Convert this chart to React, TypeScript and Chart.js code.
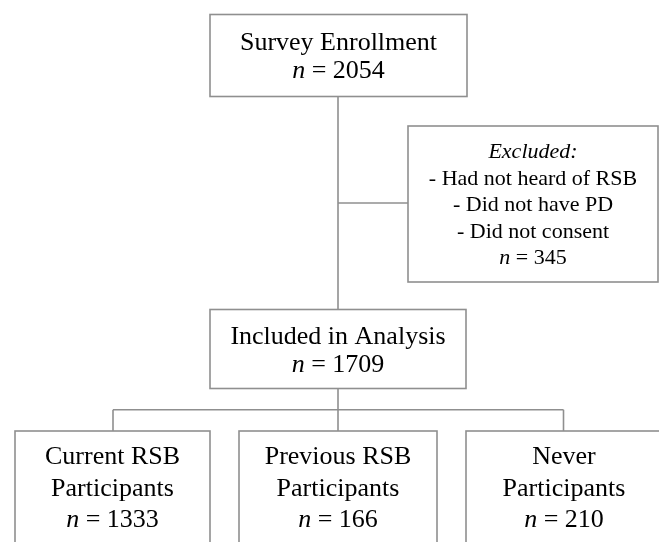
import React, { useEffect, useRef } from "react";
import { Chart, registerables } from "chart.js";

Chart.register(...registerables);

// ---- Data (content of the flowchart) ----
const nodeIds = ["enroll", "excluded", "included", "current", "previous", "never"];
const nodeLines: string[][] = [
  ["Survey Enrollment"],
  ["Excluded:", "- Had not heard of RSB", "- Did not have PD", "- Did not consent"],
  ["Included in Analysis"],
  ["Current RSB", "Participants"],
  ["Previous RSB", "Participants"],
  ["Never", "Participants"],
];
const nodeCounts = [2054, 345, 1709, 1333, 166, 210];
const italicFirstLine = [false, true, false, false, false, false];

// ---- Layout (in scale units; x: 0..659, y: 0..542 top-down) ----
const nodeCx = [338.5, 533, 338, 112.5, 338, 566];
const nodeCy = [55.5, 204, 349, 487, 487, 487];
const nodeW = [257, 250, 256, 195, 198, 200];
const nodeH = [82, 156, 79, 112, 112, 112];
const nodeFont = [26, 22, 26, 26, 26, 26];
const nodeLineGap = [28, 26.5, 28, 31.5, 31.5, 31.5];

const FONT = '"Liberation Serif", "Times New Roman", serif';
const LINE_COLOR = "#8f8f8f";
const TEXT_COLOR = "#000000";

const flowPlugin = {
  id: "flowchart",
  afterDraw(chart: any) {
    const ctx = chart.ctx as CanvasRenderingContext2D;
    const xs = chart.scales.x;
    const ys = chart.scales.y;
    const px = (v: number) => xs.getPixelForValue(v);
    const py = (v: number) => ys.getPixelForValue(v);

    ctx.save();
    ctx.strokeStyle = LINE_COLOR;
    ctx.lineWidth = 1.6;

    const line = (x1: number, y1: number, x2: number, y2: number) => {
      ctx.beginPath();
      ctx.moveTo(px(x1), py(y1));
      ctx.lineTo(px(x2), py(y2));
      ctx.stroke();
    };
    const top = (i: number) => nodeCy[i] - nodeH[i] / 2;
    const bottom = (i: number) => nodeCy[i] + nodeH[i] / 2;
    const left = (i: number) => nodeCx[i] - nodeW[i] / 2;

    // connectors
    const trunkX = nodeCx[2];
    line(trunkX, bottom(0), trunkX, top(2));
    line(trunkX, nodeCy[1] - 1, left(1), nodeCy[1] - 1);
    const busY = (bottom(2) + top(3)) / 2;
    line(trunkX, bottom(2), trunkX, busY);
    line(nodeCx[3] + 0.5, busY, nodeCx[5] - 2.5, busY);
    line(nodeCx[3] + 0.5, busY, nodeCx[3] + 0.5, top(3));
    line(nodeCx[4], busY, nodeCx[4], top(4));
    line(nodeCx[5] - 2.5, busY, nodeCx[5] - 2.5, top(5));

    // boxes + text
    for (let i = 0; i < nodeIds.length; i++) {
      const x0 = px(left(i));
      const y0 = py(top(i));
      const w = px(left(i) + nodeW[i]) - x0;
      const h = py(bottom(i)) - y0;
      ctx.fillStyle = "#ffffff";
      ctx.fillRect(x0, y0, w, h);
      ctx.strokeRect(x0, y0, w, h);

      const lines = [...nodeLines[i], "__N__"];
      const n = lines.length;
      const fs = nodeFont[i];
      const gap = nodeLineGap[i];
      const cx = px(i === 5 ? nodeCx[i] - 2 : nodeCx[i]);
      ctx.fillStyle = TEXT_COLOR;
      ctx.textBaseline = "alphabetic";
      for (let k = 0; k < n; k++) {
        const base = py(nodeCy[i] + (k - (n - 1) / 2) * gap) + fs * 0.33;
        if (lines[k] === "__N__") {
          const italic = `italic ${fs}px ${FONT}`;
          const normal = `${fs}px ${FONT}`;
          const rest = " = " + nodeCounts[i];
          ctx.font = italic;
          const wn = ctx.measureText("n").width;
          ctx.font = normal;
          const wr = ctx.measureText(rest).width;
          const sx = cx - (wn + wr) / 2;
          ctx.textAlign = "left";
          ctx.font = italic;
          ctx.fillText("n", sx, base);
          ctx.font = normal;
          ctx.fillText(rest, sx + wn, base);
        } else {
          ctx.textAlign = "center";
          ctx.font = (k === 0 && italicFirstLine[i] ? "italic " : "") + `${fs}px ${FONT}`;
          ctx.fillText(lines[k], cx, base);
        }
      }
    }
    ctx.restore();
  },
};

export default function App() {
  const ref = useRef<HTMLCanvasElement>(null);
  useEffect(() => {
    document.body.style.margin = "0";
    const canvas = ref.current!;
    const chart = new Chart(canvas, {
      type: "scatter",
      data: {
        datasets: [
          {
            data: nodeCx.map((x, i) => ({ x, y: nodeCy[i] })),
            pointRadius: 0,
            showLine: false,
          },
        ],
      },
      options: {
        responsive: false,
        animation: false,
        devicePixelRatio: 1,
        layout: { padding: 0 },
        plugins: { legend: { display: false }, tooltip: { enabled: false } },
        scales: {
          x: { type: "linear", min: 0, max: 659, display: false },
          y: { type: "linear", min: 0, max: 542, reverse: true, display: false },
        },
      },
      plugins: [flowPlugin],
    });
    return () => chart.destroy();
  }, []);
  return (
    <div style={{ position: "fixed", left: 0, top: 0, width: 659, height: 542, background: "#fff" }}>
      <canvas ref={ref} width={659} height={542} style={{ display: "block" }} />
    </div>
  );
}
